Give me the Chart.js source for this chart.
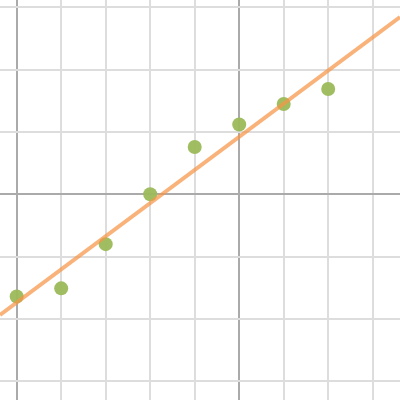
<!DOCTYPE html>
<html>
<head>
<meta charset="utf-8">
<script src="https://cdn.jsdelivr.net/npm/chart.js@4"></script>
<style>
html,body{margin:0;padding:0;background:#fff;}
#wrap{width:400px;height:400px;}
</style>
</head>
<body>
<div id="wrap"><canvas id="c"></canvas></div>
<script>
// Data
const pointX = [0, 1, 2, 3, 4, 5, 6, 7];
const pointY = [-1.64, -1.51, -0.80, 0.00, 0.76, 1.12, 1.45, 1.69];
const lineX = [-0.375, 8.613];
const lineY = [-1.937, 2.846];
const xTicks = [0, 1, 2, 3, 4, 5, 6, 7, 8];
const yTicks = [-3, -2, -1, 0, 1, 2, 3];
const xMajor = [0, 5];
const yMajor = [0];

const scatterData = pointX.map((x, i) => ({x: x, y: pointY[i]}));
const lineData = lineX.map((x, i) => ({x: x, y: lineY[i]}));

const light = '#dddddd';
const dark = '#aaaaaa';

new Chart(document.getElementById('c'), {
  type: 'scatter',
  data: {
    datasets: [
      {
        type: 'line',
        data: lineData,
        borderColor: 'rgba(247,150,70,0.72)',
        borderWidth: 4,
        pointRadius: 0,
        fill: false,
        order: 0
      },
      {
        data: scatterData,
        backgroundColor: 'rgba(155,187,89,0.95)',
        borderWidth: 0,
        pointRadius: 7,
        pointHoverRadius: 7,
        order: 1
      }
    ]
  },
  options: {
    responsive: true,
    maintainAspectRatio: false,
    animation: false,
    layout: {padding: 0, autoPadding: false},
    plugins: {legend: {display: false}, tooltip: {enabled: false}},
    scales: {
      x: {
        type: 'linear',
        min: lineX[0],
        max: lineX[1],
        afterBuildTicks: (s) => { s.ticks = xTicks.map(v => ({value: v})); },
        ticks: {display: false},
        border: {display: false},
        grid: {
          drawTicks: false,
          lineWidth: 2,
          color: (ctx) => (ctx.tick && xMajor.includes(ctx.tick.value)) ? dark : light
        }
      },
      y: {
        type: 'linear',
        min: -3.302,
        max: 3.119,
        afterBuildTicks: (s) => { s.ticks = yTicks.map(v => ({value: v})); },
        ticks: {display: false},
        border: {display: false},
        grid: {
          drawTicks: false,
          lineWidth: 2,
          color: (ctx) => (ctx.tick && yMajor.includes(ctx.tick.value)) ? dark : light
        }
      }
    }
  }
});
</script>
</body>
</html>
